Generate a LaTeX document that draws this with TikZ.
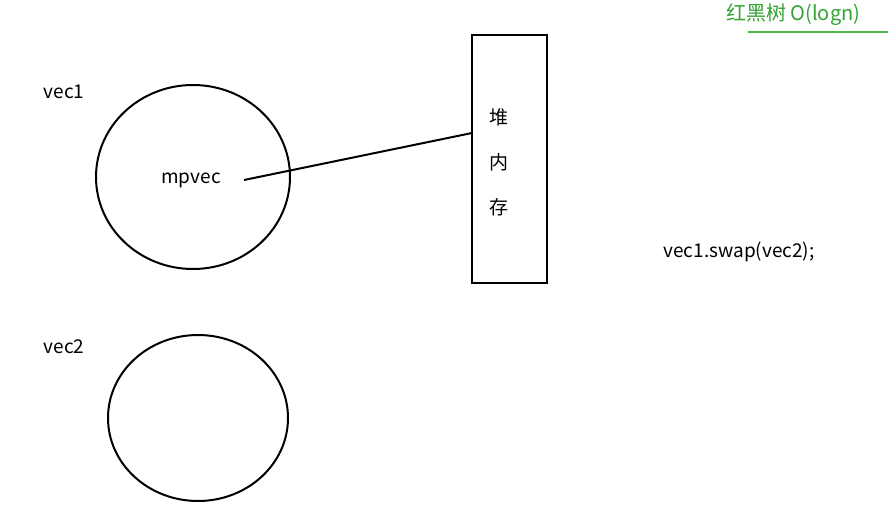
\documentclass[tikz,border=0pt]{standalone}
\usepackage{fontspec}
\setmainfont{Noto Sans CJK SC}
\begin{document}
\begin{tikzpicture}[x=1pt,y=-1pt,
  lbl/.style={font=\fontsize{19}{22}\selectfont,inner sep=0pt},
  ln/.style={draw,line width=2pt}]
\useasboundingbox (0,0) rectangle (888,513);
\clip (0,0) rectangle (888,513);
\fill[white] (0,0) rectangle (888,513);
\draw[ln] (193,177) ellipse [x radius=97,y radius=92];
\draw[ln] (198,418) ellipse [x radius=90,y radius=83];
\node[ln,minimum width=75,minimum height=248,inner sep=0pt] (heap) at (509.5,159) {};
\node[lbl] at (499,117) {堆};
\node[lbl] at (499,162) {内};
\node[lbl] at (499,207) {存};
\node[lbl] (v1) at (64,92) {vec1};
\node[lbl] (v2) at (64,347) {vec2};
\node[lbl] (mp) at (191,180) {mpvec};
\coordinate (s) at (244,180);
\coordinate (e) at (472,133);
\draw[line width=2pt] (s) -- (e);
\node[lbl] (sw) at (739,252) {vec1.swap(vec2);};
\node[lbl,anchor=west,text=green!55!black!80,font=\fontsize{20}{22}\selectfont] (rb) at (726,15) {红黑树 O(logn)};
\draw[green!60!black!70,line width=2.5pt] (748,32) -- (900,32);
\end{tikzpicture}
\end{document}
